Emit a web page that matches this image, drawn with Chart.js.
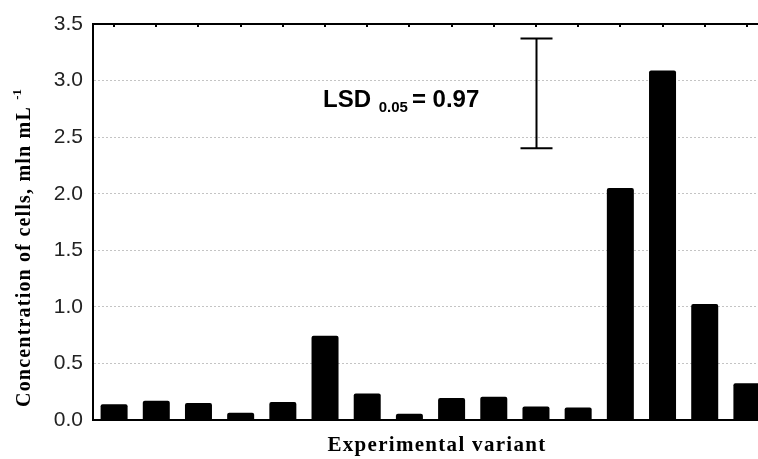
<!DOCTYPE html>
<html>
<head>
<meta charset="utf-8">
<script src="https://cdn.jsdelivr.net/npm/chart.js@4"></script>
<style>
  html, body { margin: 0; padding: 0; background: #fff; overflow: hidden; }
  #wrap { width: 758px; height: 459px; overflow: hidden; position: relative; }
  #box { width: 768px; height: 459px; position: absolute; left: 0; top: 0; }
</style>
</head>
<body>
<div id="wrap"><div id="box"><canvas id="chart"></canvas></div></div>
<script>
// experimental variants (labels are not printed on the axis)
const variants = ['1', '2', '3', '4', '5', '6', '7', '8', '9', '10', '11', '12', '13', '14', '15', '16'];
// concentration of cells, mln mL-1
const concentration = [0.14, 0.17, 0.15, 0.065, 0.16, 0.745, 0.235, 0.055, 0.195, 0.205, 0.12, 0.11, 2.05, 3.09, 1.025, 0.325];
const yTicks = [0, 0.5, 1.0, 1.5, 2.0, 2.5, 3.0, 3.5];
// LSD bar: drawn at variant 11, centred on 2.887
const lsdValue = 0.97;
const lsdAt = 10;
const lsdCentre = 2.887;

const annotations = {
  id: 'annotations',
  afterDraw(chart) {
    const ctx = chart.ctx;
    const x = chart.scales.x;
    const y = chart.scales.y;
    const area = chart.chartArea;
    ctx.save();

    // small ticks on the top frame, pointing inward
    ctx.strokeStyle = '#000';
    ctx.lineWidth = 2;
    variants.forEach((v, i) => {
      const px = Math.round(x.getPixelForValue(i));
      ctx.beginPath();
      ctx.moveTo(px, area.top);
      ctx.lineTo(px, area.top + 3);
      ctx.stroke();
    });

    // LSD error bar
    const ex = Math.round(x.getPixelForValue(lsdAt)) + 0.5;
    const yTop = y.getPixelForValue(lsdCentre + lsdValue / 2);
    const yBot = y.getPixelForValue(lsdCentre - lsdValue / 2);
    ctx.lineWidth = 2;
    ctx.beginPath();
    ctx.moveTo(ex, yTop);
    ctx.lineTo(ex, yBot);
    ctx.moveTo(ex - 16, yTop);
    ctx.lineTo(ex + 16, yTop);
    ctx.moveTo(ex - 16, yBot);
    ctx.lineTo(ex + 16, yBot);
    ctx.stroke();

    // LSD label
    ctx.fillStyle = '#000';
    ctx.textBaseline = 'alphabetic';
    ctx.textAlign = 'left';
    let tx = x.getPixelForValue(5) - 2;
    const ty = y.getPixelForValue(2.766);
    ctx.font = 'bold 24px Arial, "Liberation Sans", sans-serif';
    ctx.fillText('LSD ', tx, ty);
    tx += ctx.measureText('LSD ').width + 1;
    ctx.font = 'bold 15px Arial, "Liberation Sans", sans-serif';
    ctx.fillText('0.05', tx, ty + 5);
    tx += ctx.measureText('0.05').width + 4;
    ctx.font = 'bold 24px Arial, "Liberation Sans", sans-serif';
    ctx.fillText('= ' + lsdValue.toFixed(2), tx, ty);

    // x axis title
    ctx.font = 'bold 21px "Times New Roman", "Liberation Serif", serif';
    ctx.letterSpacing = '1.3px';
    ctx.textAlign = 'center';
    ctx.fillText('Experimental variant', 437, 451);

    // y axis title, rotated, with superscript
    ctx.translate(30, 248);
    ctx.rotate(-Math.PI / 2);
    ctx.textAlign = 'left';
    const main = 'Concentration of cells, mln mL ';
    ctx.font = 'bold 20px "Times New Roman", "Liberation Serif", serif';
    ctx.letterSpacing = '1.2px';
    const w = ctx.measureText(main).width;
    ctx.font = 'bold 13px "Times New Roman", "Liberation Serif", serif';
    ctx.letterSpacing = '0px';
    const ws = ctx.measureText('-1').width;
    const sx = -(w + ws) / 2;
    ctx.font = 'bold 20px "Times New Roman", "Liberation Serif", serif';
    ctx.letterSpacing = '1.2px';
    ctx.fillText(main, sx, 0);
    ctx.font = 'bold 13px "Times New Roman", "Liberation Serif", serif';
    ctx.letterSpacing = '0px';
    ctx.fillText('-1', sx + w, -9);

    ctx.restore();
  }
};

new Chart(document.getElementById('chart'), {
  type: 'bar',
  data: {
    labels: variants,
    datasets: [{
      data: concentration,
      backgroundColor: '#000',
      borderWidth: 0,
      borderRadius: 2,
      borderSkipped: 'bottom',
      barPercentage: 0.64,
      categoryPercentage: 1.0
    }]
  },
  options: {
    responsive: true,
    maintainAspectRatio: false,
    animation: false,
    layout: { padding: { top: 24, right: 0, left: 0, bottom: 0 } },
    plugins: {
      legend: { display: false },
      tooltip: { enabled: false }
    },
    scales: {
      x: {
        type: 'category',
        offset: true,
        ticks: { display: false },
        grid: { display: false },
        border: { display: true, color: '#000', width: 2 },
        afterFit(scale) { scale.height = 39; }
      },
      xTop: {
        type: 'category',
        position: 'top',
        offset: true,
        labels: variants,
        ticks: { display: false },
        grid: { display: false },
        border: { display: true, color: '#000', width: 2 },
        afterFit(scale) { scale.height = 0; }
      },
      y: {
        min: 0,
        max: 3.5,
        afterBuildTicks(scale) { scale.ticks = yTicks.map(v => ({ value: v })); },
        ticks: {
          callback: v => Number(v).toFixed(1),
          color: '#222',
          font: { family: 'Arial, "Liberation Sans", sans-serif', size: 21 },
          padding: 10
        },
        grid: {
          color: ctx => (ctx.tick && ctx.tick.value > 0 && ctx.tick.value < 3.5) ? '#c4c4c4' : 'rgba(0,0,0,0)',
          lineWidth: 1,
          drawTicks: false
        },
        border: { display: true, color: '#000', width: 2, dash: [2, 2] },
        afterFit(scale) { scale.width = 93; }
      }
    }
  },
  plugins: [annotations]
});
</script>
</body>
</html>
